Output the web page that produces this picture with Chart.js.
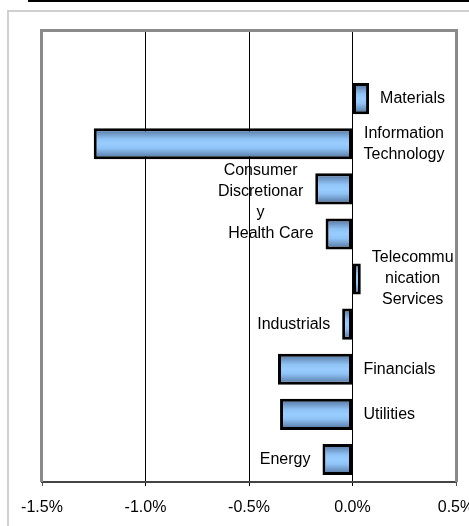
<!DOCTYPE html>
<html>
<head>
<meta charset="utf-8">
<script src="https://cdn.jsdelivr.net/npm/chart.js@4.4.1/dist/chart.umd.min.js"></script>
<style>
  html, body { margin: 0; padding: 0; background: #fff; overflow: hidden; width: 469px; height: 526px; }
  #topline { position: absolute; left: 28px; top: 0; width: 441px; height: 2px; background: #000; }
  #frame { position: absolute; left: 7px; top: 10px; width: 470px; height: 530px; border-left: 2px solid #d0d0d0; border-top: 2px solid #d0d0d0; }
  #chart { position: absolute; left: 0; top: 0; }
</style>
</head>
<body>
<div id="topline"></div>
<div id="frame"></div>
<canvas id="chart" width="469" height="526"></canvas>
<script>
// sectors from top to bottom (first slot is empty in the original)
const sectors = [
    '',
    ['Materials'],
    ['Information', 'Technology'],
    ['Consumer', 'Discretionar', 'y'],
    ['Health Care'],
    ['Telecommu', 'nication', 'Services'],
    ['Industrials'],
    ['Financials'],
    ['Utilities'],
    ['Energy']
];
// contribution in percent
const contribution = [null, 0.08, -1.25, -0.18, -0.13, 0.04, -0.05, -0.36, -0.35, -0.145];
// which side of the zero line the label sits on
const labelSide = [null, 'R', 'R', 'L', 'L', 'R', 'L', 'R', 'R', 'L'];
const xTicks = [-1.5, -1.0, -0.5, 0.0, 0.5];

const FONT = 'Arial, "Liberation Sans", sans-serif';
const BAR_PCT = 0.69;

// vertical gradient per bar, built from the category scale
function barFill(c) {
    const chart = c.chart;
    const ys = chart.scales.y;
    const area = chart.chartArea;
    if (!ys || !area || c.dataIndex == null) return '#99ccff';
    const yc = ys.getPixelForValue(c.dataIndex);
    const h = (area.bottom - area.top) / sectors.length * BAR_PCT;
    const top = yc - h / 2;
    const g = chart.ctx.createLinearGradient(0, top, 0, top + h);
    g.addColorStop(0, '#4d6c96');
    g.addColorStop(0.35, '#8fc3f5');
    g.addColorStop(0.5, '#99ccff');
    g.addColorStop(0.65, '#8fc3f5');
    g.addColorStop(1, '#4d6c96');
    return g;
}

const plotFrame = {
    id: 'plotFrame',
    beforeDatasetsDraw(chart) {
        const ctx = chart.ctx;
        const area = chart.chartArea;
        ctx.save();
        ctx.strokeStyle = '#8a8a8a';
        ctx.lineWidth = 3;
        ctx.beginPath();
        ctx.moveTo(area.left - 0.5, area.bottom);
        ctx.lineTo(area.left - 0.5, area.top - 0.5);
        ctx.lineTo(area.right + 0.5, area.top - 0.5);
        ctx.lineTo(area.right + 0.5, area.bottom);
        ctx.stroke();
        ctx.restore();
    }
};

const barLabels = {
    id: 'barLabels',
    afterDatasetsDraw(chart) {
        const ctx = chart.ctx;
        const xs = chart.scales.x;
        const meta = chart.getDatasetMeta(0);
        ctx.save();
        ctx.font = '16px ' + FONT;
        ctx.fillStyle = '#000';
        ctx.textAlign = 'center';
        ctx.textBaseline = 'middle';
        const lh = 21;
        sectors.forEach((lines, i) => {
            if (!lines || contribution[i] == null) return;
            const el = meta.data[i];
            const w = Math.max(...lines.map(s => ctx.measureText(s).width));
            let cx;
            if (labelSide[i] === 'R') {
                cx = xs.getPixelForValue(Math.max(0, contribution[i])) + 11 + w / 2;
            } else {
                cx = xs.getPixelForValue(Math.min(0, contribution[i])) - 12 - w / 2;
            }
            const y0 = el.y - (lines.length - 1) * lh / 2 + (lines.length > 2 && labelSide[i] === 'L' ? 3 : 0);
            lines.forEach((s, k) => ctx.fillText(s, cx, y0 + k * lh));
        });
        ctx.restore();
    }
};

new Chart(document.getElementById('chart'), {
    type: 'bar',
    data: {
        labels: sectors.map(s => Array.isArray(s) ? s.join(' ') : s),
        datasets: [{
            data: contribution,
            backgroundColor: barFill,
            borderColor: '#000',
            borderWidth: 3,
            borderSkipped: false,
            barPercentage: BAR_PCT,
            categoryPercentage: 1.0
        }]
    },
    options: {
        indexAxis: 'y',
        responsive: false,
        devicePixelRatio: 1,
        animation: false,
        layout: { padding: { left: 42, top: 31, right: 13, bottom: 0 } },
        plugins: {
            legend: { display: false },
            tooltip: { enabled: false }
        },
        scales: {
            x: {
                type: 'linear',
                min: xTicks[0],
                max: xTicks[xTicks.length - 1],
                afterBuildTicks: axis => { axis.ticks = xTicks.map(v => ({ value: v })); },
                afterFit: axis => {
                    // fixed axis band, and let the last label run off the edge like the original
                    axis.height = 44;
                    axis.paddingLeft = 0;
                    axis.paddingRight = 0;
                },
                ticks: {
                    color: '#000',
                    padding: 12,
                    maxRotation: 0,
                    font: { family: FONT, size: 16 },
                    callback: v => v.toFixed(1) + '%'
                },
                grid: {
                    color: c => (c.index === 0 || c.index === xTicks.length - 1) ? '#555' : '#000',
                    lineWidth: 1,
                    tickLength: 4
                },
                border: { color: '#444', width: 2 }
            },
            y: {
                display: false
            }
        }
    },
    plugins: [plotFrame, barLabels]
});
</script>
</body>
</html>
